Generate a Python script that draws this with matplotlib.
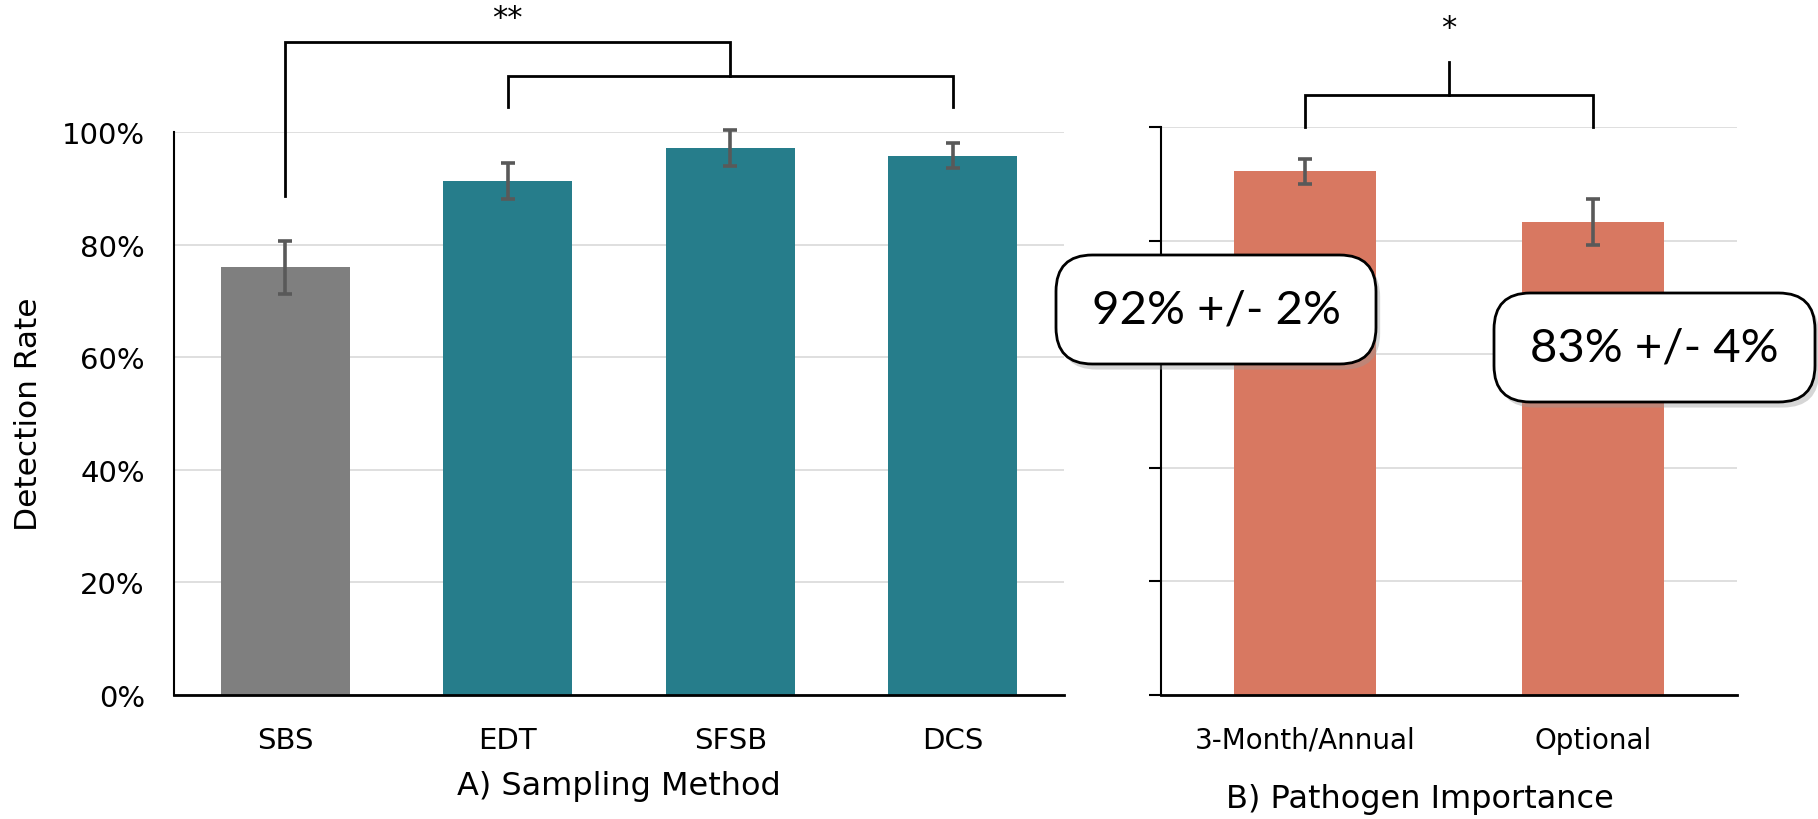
import matplotlib.pyplot as plt
from matplotlib.patches import FancyBboxPatch
import matplotlib.patheffects as pe

# A) sampling method
methods = ["SBS", "EDT", "SFSB", "DCS"]
method_rates = [0.76, 0.913, 0.971, 0.958]
method_errors = [0.047, 0.032, 0.032, 0.022]
method_colors = ["#7f7f7f", "#267d8b", "#267d8b", "#267d8b"]

# B) pathogen importance
groups = ["3-Month/Annual", "Optional"]
group_rates = [0.922, 0.833]
group_errors = [0.022, 0.041]
group_labels = ["92% +/- 2%", "83% +/- 4%"]

W, H = 1818, 820
ERR_KW = dict(ecolor="#595959", elinewidth=2.6, capsize=5, capthick=2.6)
GRID = "#d9d9d9"


def _px(x, y):
    # figure pixel (from top-left) -> figure fraction
    return x / W, 1 - y / H


def _style_axes(ax):
    ax.spines["top"].set_visible(False)
    ax.spines["right"].set_visible(False)
    ax.spines["bottom"].set_linewidth(2)
    ax.spines["left"].set_linewidth(1.5)
    ax.set_axisbelow(True)
    ax.yaxis.grid(True, color=GRID, linewidth=1.2)
    ax.set_ylim(0, 1.0)


def _unclip_errorbars(bars):
    for part in bars.errorbar.lines:
        if part is None:
            continue
        items = part if isinstance(part, tuple) else [part]
        for item in items:
            item.set_clip_on(False)


def _bracket(ax, x0, x1, y, y_left, y_right, lw=2):
    ax.plot([x0, x0, x1, x1], [y_left, y, y, y_right], color="black",
            linewidth=lw, clip_on=False, solid_joinstyle="miter")


def _label_box(fig, left, top, right, bottom, text):
    x0, y1 = _px(left, top)
    x1, y0 = _px(right, bottom)
    box = FancyBboxPatch((x0, y0), x1 - x0, y1 - y0,
                         boxstyle="round,pad=0,rounding_size=0.02",
                         transform=fig.transFigure, facecolor="white",
                         edgecolor="black", linewidth=2, zorder=10,
                         mutation_aspect=W / H)
    box.set_path_effects([pe.SimplePatchShadow(offset=(3, -4), shadow_rgbFace="#999999", alpha=0.4),
                          pe.Normal()])
    fig.patches.append(box)
    fig.text((x0 + x1) / 2, (y0 + y1) / 2, text, ha="center", va="center",
             fontsize=34, family="Lato", color="black", zorder=11)


fig = plt.figure(figsize=(W / 100, H / 100), dpi=100)

# left panel
l0, b0 = _px(174, 696)
l1, t1 = _px(1064, 133)
ax1 = fig.add_axes([l0, b0, l1 - l0, t1 - b0])
_style_axes(ax1)
xs = list(range(len(methods)))
bars1 = ax1.bar(xs, method_rates, width=0.58, color=method_colors, yerr=method_errors, error_kw=ERR_KW)
_unclip_errorbars(bars1)
ax1.set_xlim(-0.5, len(methods) - 0.5)
ax1.set_yticks([0, 0.2, 0.4, 0.6, 0.8, 1.0])
ax1.set_yticklabels(["0%", "20%", "40%", "60%", "80%", "100%"])
ax1.set_xticks(xs)
ax1.set_xticklabels(methods)
ax1.tick_params(axis="both", length=0, labelsize=21)
ax1.tick_params(axis="y", pad=21)
ax1.tick_params(axis="x", pad=22)
ax1.set_ylabel("Detection Rate", fontsize=22.5)
ax1.yaxis.label.set_va("center")
ax1.yaxis.set_label_coords(-0.163, 0.5)
ax1.set_xlabel("A) Sampling Method", fontsize=23)
ax1.xaxis.label.set_va("center")
ax1.xaxis.set_label_coords(0.5, -0.16)

# ** : SBS vs the other three
_bracket(ax1, 1, 3, 1.099, 1.044, 1.044)
_bracket(ax1, 0, 2, 1.160, 0.886, 1.099)
ax1.text(1, 1.204, "**", ha="center", va="center", fontsize=22, clip_on=False)

# right panel
r0, _ = _px(1161, 696)
r1, rt = _px(1737, 128)
ax2 = fig.add_axes([r0, b0, r1 - r0, rt - b0])
_style_axes(ax2)
gx = list(range(len(groups)))
bars2 = ax2.bar(gx, group_rates, width=0.49, color="#d87861", yerr=group_errors, error_kw=ERR_KW)
_unclip_errorbars(bars2)
ax2.set_xlim(-0.5, len(groups) - 0.5)
ax2.set_yticks([0, 0.2, 0.4, 0.6, 0.8, 1.0])
ax2.set_yticklabels([])
ax2.set_xticks(gx)
ax2.set_xticklabels(groups)
ax2.tick_params(axis="x", length=0, labelsize=20, pad=22)
ax2.tick_params(axis="y", length=9, width=1.5, direction="out")
ax2.set_xlabel("B) Pathogen Importance", fontsize=23)
ax2.xaxis.label.set_va("center")
ax2.xaxis.set_label_coords(0.45, -0.183)

_bracket(ax2, 0, 1, 1.056, 1.0, 1.0)
ax2.plot([0.5, 0.5], [1.056, 1.114], color="black", linewidth=2, clip_on=False)
ax2.text(0.5, 1.176, "*", ha="center", va="center", fontsize=22, clip_on=False)

_label_box(fig, 1056, 256, 1376, 365, group_labels[0])
_label_box(fig, 1494, 294, 1815, 403, group_labels[1])

fig.savefig("out.png", dpi=100)
